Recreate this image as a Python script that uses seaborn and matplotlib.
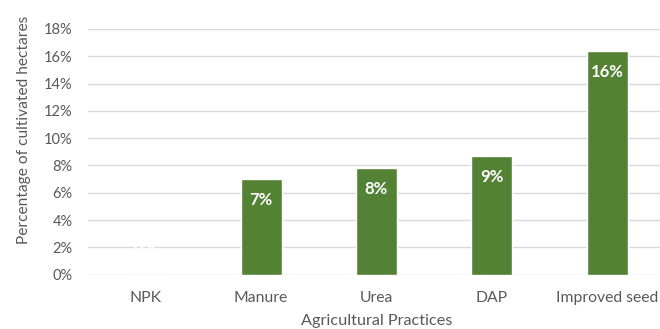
import matplotlib
matplotlib.use("Agg")
import matplotlib.pyplot as plt
import seaborn as sns
import pandas as pd
from matplotlib.ticker import PercentFormatter, MultipleLocator

practices = ["NPK", "Manure", "Urea", "DAP", "Improved seed"]
shares = [0.0, 0.0698, 0.0779, 0.0867, 0.1638]
labels = ["0%", "7%", "8%", "9%", "16%"]

df = pd.DataFrame({"practice": practices, "share": shares})

sns.set_theme(style="white")
plt.rcParams["font.family"] = ["Lato", "DejaVu Sans"]

fig = plt.figure(figsize=(6.6, 3.29), dpi=100)
ax = fig.add_axes([0.1333, 0.1653, 0.874, 0.7468])

sns.barplot(data=df, x="practice", y="share", color="#548235",
            saturation=1, width=0.355, ax=ax, zorder=3)

ax.set_ylim(0, 0.18)
ax.set_xlim(-0.5, 4.5)
ax.yaxis.set_major_locator(MultipleLocator(0.02))
ax.yaxis.set_major_formatter(PercentFormatter(1.0, decimals=0))
ax.grid(axis="y", color="#d9d9d9", linewidth=1.0, zorder=0)
for s in ax.spines.values():
    s.set_visible(False)
ax.tick_params(axis="both", length=0, colors="#595959")
ax.tick_params(axis="y", pad=11, labelsize=10.5)
ax.tick_params(axis="x", pad=12, labelsize=11.3)

ax.set_xlabel("Agricultural Practices", color="#595959", fontsize=11.7, labelpad=6)
ax.set_ylabel("Percentage of cultivated hectares", color="#595959", fontsize=11.2, labelpad=8)
ax.yaxis.set_label_coords(-0.098, 0.59)

# value labels inside the top of each bar
for i, (v, t) in enumerate(zip(shares, labels)):
    off = -15 if v > 0 else 19.5
    ax.annotate(t, (i, v), xytext=(0, off), textcoords="offset points",
                ha="center", va="center", color="white",
                fontsize=12, fontweight="bold", zorder=4)

fig.savefig("out.png", dpi=100)
